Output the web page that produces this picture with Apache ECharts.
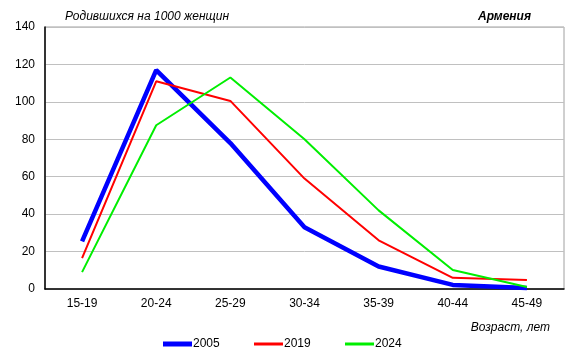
<!DOCTYPE html>
<html><head><meta charset="utf-8">
<script src="https://cdn.jsdelivr.net/npm/echarts@6/dist/echarts.min.js"></script>
<style>html,body{margin:0;padding:0;background:#fff}#c{width:579px;height:358px}</style>
</head><body><div id="c"></div>
<script>
const categories = ['15-19','20-24','25-29','30-34','35-39','40-44','45-49'];
const s2005 = [25.5, 117, 78, 33, 12, 2.2, 0.5];
const s2019 = [16.5, 111, 100.5, 59, 26, 6, 4.8];
const s2024 = [9, 87.5, 113, 80, 42, 10.2, 1.1];
const yTicks = [0, 20, 40, 60, 80, 100, 120, 140];

const font = 'Liberation Sans, Arial, sans-serif';
function leg(name, left, h) {
  return {
    top: 338, left: left, padding: 0, itemWidth: 29, itemHeight: h, icon: 'rect',
    textStyle: {fontSize: 12, color: '#000', padding: [0, 0, 0, -4], fontFamily: font},
    data: [name]
  };
}
const chart = echarts.init(document.getElementById('c'));
chart.setOption({
  animation: false,
  textStyle: {fontFamily: font},
  title: [
    {text: 'Родившихся на 1000 женщин', left: 60, top: 6,
     textStyle: {fontSize: 12, fontStyle: 'italic', fontWeight: 'normal', color: '#000', fontFamily: font}},
    {text: 'Армения', right: 43, top: 6,
     textStyle: {fontSize: 12, fontStyle: 'italic', fontWeight: 'bold', color: '#000', fontFamily: font}}
  ],
  legend: [leg('2005', 163, 5), leg('2019', 254, 3), leg('2024', 345, 3)],
  grid: {left: 45, right: 15, top: 27, bottom: 69, show: true, borderColor: '#a0a0a0', borderWidth: 1},
  xAxis: {
    type: 'category', data: categories, boundaryGap: true,
    name: 'Возраст, лет', nameLocation: 'end', nameGap: 0,
    nameTextStyle: {fontStyle: 'italic', fontSize: 12, color: '#000', align: 'right', verticalAlign: 'top', padding: [33, 14, 0, 0]},
    axisLine: {lineStyle: {color: '#000', width: 1.5}},
    axisTick: {show: false},
    axisLabel: {color: '#000', fontSize: 12, margin: 9}
  },
  yAxis: {
    type: 'value', min: yTicks[0], max: yTicks[yTicks.length - 1], interval: 20,
    axisLine: {show: true, lineStyle: {color: '#000', width: 1.5}},
    axisTick: {show: false},
    axisLabel: {color: '#000', fontSize: 12, margin: 10},
    splitLine: {lineStyle: {color: '#c0c0c0', width: 1}}
  },
  series: [
    {name: '2005', type: 'line', data: s2005, symbol: 'none', lineStyle: {color: '#0000ff', width: 4.5}, itemStyle: {color: '#0000ff'}, z: 3},
    {name: '2019', type: 'line', data: s2019, symbol: 'none', lineStyle: {color: '#ff0000', width: 2}, itemStyle: {color: '#ff0000'}, z: 4},
    {name: '2024', type: 'line', data: s2024, symbol: 'none', lineStyle: {color: '#00ee00', width: 2}, itemStyle: {color: '#00ee00'}, z: 5}
  ]
});
</script></body></html>
